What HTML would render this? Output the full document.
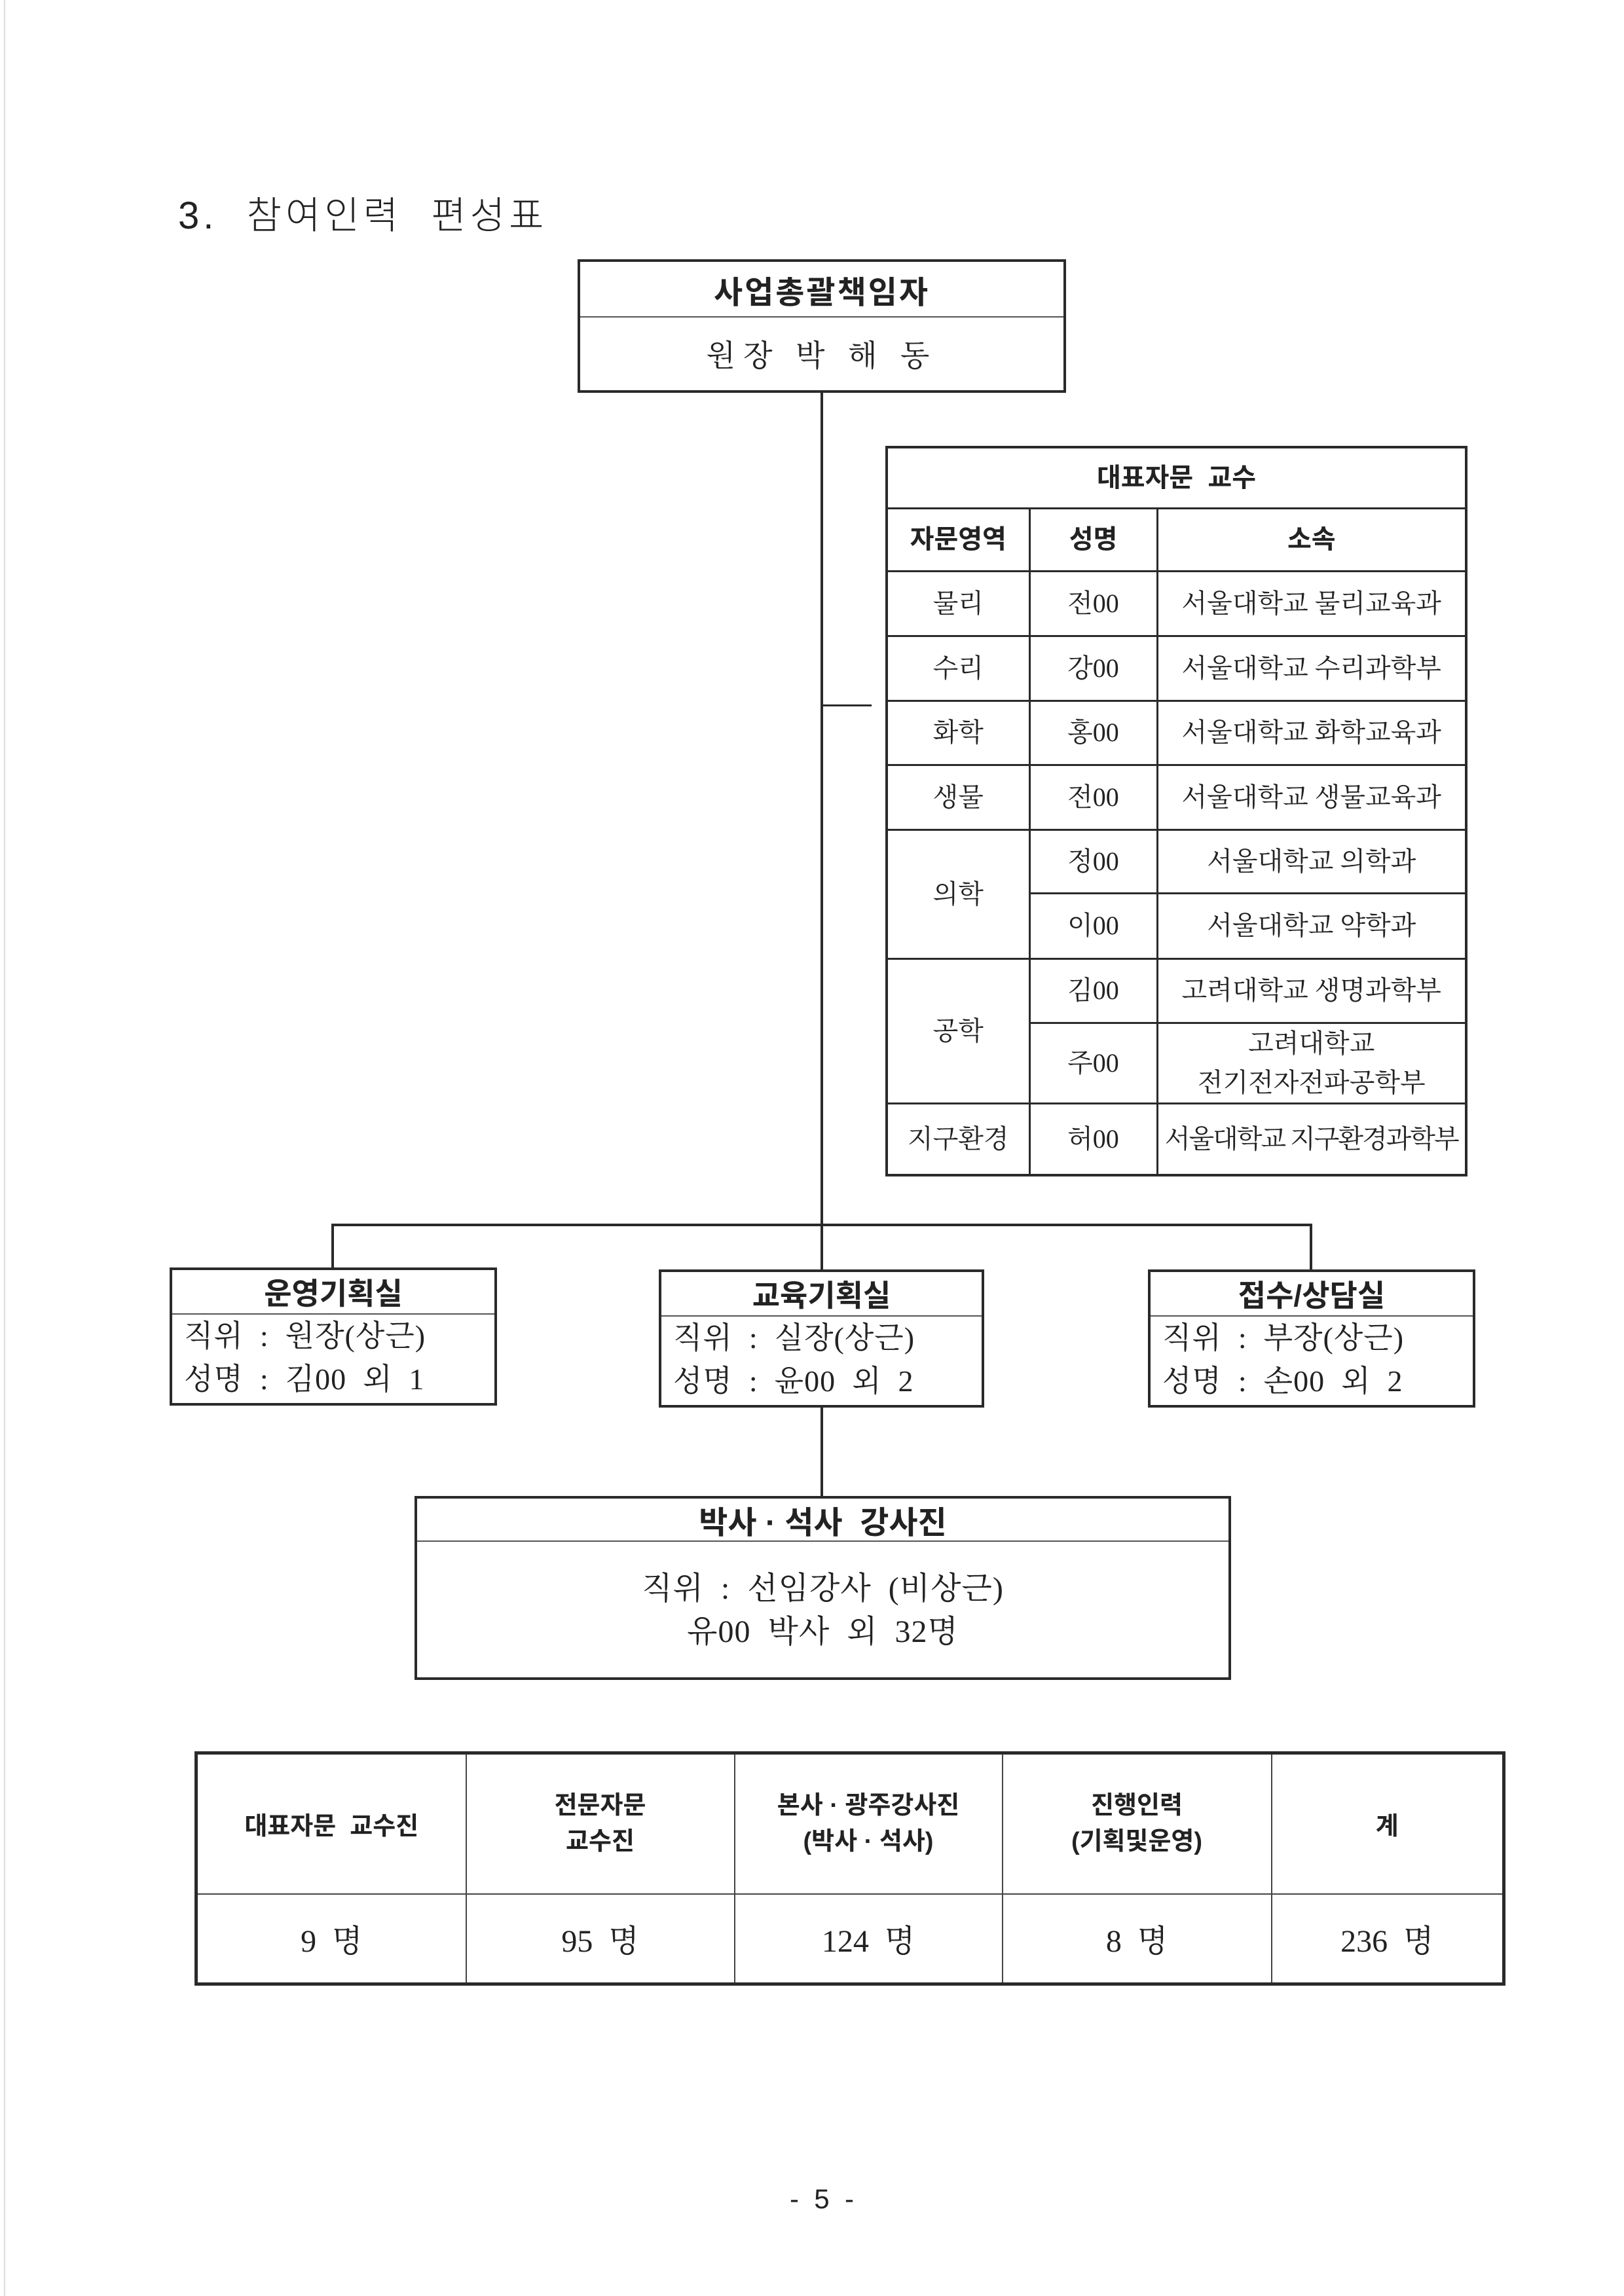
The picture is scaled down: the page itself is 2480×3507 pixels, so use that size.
<!DOCTYPE html>
<html><head><meta charset="utf-8"><style>
*{margin:0;padding:0;box-sizing:border-box}
body{width:2480px;height:3507px;background:#fff;position:relative;overflow:hidden;font-family:"Liberation Serif","Noto Serif CJK SC",serif;color:#222}
.a{position:absolute}
.ln{position:absolute;background:#2a2a2a}
.box{position:absolute;border:4px solid #2a2a2a}
.sans{font-family:"Liberation Sans","Noto Sans CJK KR",sans-serif}
.c{display:flex;align-items:center;justify-content:center;text-align:center}
table{border-collapse:collapse}
.adv td{border:3px solid #2a2a2a;text-align:center;font-size:40px;line-height:1.25}
.sum td{border:2px solid #444;text-align:center}
.bt{padding-left:18px;font-size:46px;line-height:66px;white-space:pre;letter-spacing:1px}
</style></head><body>
<div class="ln" style="left:6px;top:0;width:2px;height:3507px;background:#ddd"></div>
<div class="a" style="left:272px;top:282px;font-size:58px;font-family:'Liberation Sans','Noto Sans CJK KR',sans-serif;font-weight:300;letter-spacing:6px;white-space:pre">3.  참여인력  편성표</div>

<div class="box" style="left:882px;top:396px;width:746px;height:204px">
 <div class="c sans" style="height:85px;border-bottom:2px solid #555;font-size:48px;font-weight:bold;letter-spacing:3px">사업총괄책임자</div>
 <div class="c" style="height:110px;font-size:46px;letter-spacing:12px">원장 박 해 동</div>
</div>

<div class="ln" style="left:1253px;top:600px;width:4px;height:1340px"></div>
<div class="ln" style="left:1253px;top:1076px;width:78px;height:3px"></div>
<div class="ln" style="left:506px;top:1869px;width:1498px;height:4px"></div>
<div class="ln" style="left:506px;top:1869px;width:4px;height:70px"></div>
<div class="ln" style="left:2000px;top:1869px;width:4px;height:70px"></div>
<div class="ln" style="left:1253px;top:2148px;width:4px;height:138px"></div>

<table class="adv a" style="left:1352px;top:681px;width:889px;height:1110px;border:4px solid #2a2a2a">
<colgroup><col style="width:218px"><col style="width:195px"><col></colgroup>
<tr style="height:93px"><td colspan="3" class="sans" style="font-weight:bold;font-size:40px;white-space:pre">대표자문  교수</td></tr>
<tr style="height:96px" class="sans"><td style="font-weight:bold">자문영역</td><td style="font-weight:bold">성명</td><td style="font-weight:bold">소속</td></tr>
<tr style="height:99px"><td>물리</td><td>전00</td><td>서울대학교 물리교육과</td></tr>
<tr style="height:99px"><td>수리</td><td>강00</td><td>서울대학교 수리과학부</td></tr>
<tr style="height:98px"><td>화학</td><td>홍00</td><td>서울대학교 화학교육과</td></tr>
<tr style="height:99px"><td>생물</td><td>전00</td><td>서울대학교 생물교육과</td></tr>
<tr style="height:97px"><td rowspan="2">의학</td><td>정00</td><td>서울대학교 의학과</td></tr>
<tr style="height:100px"><td>이00</td><td>서울대학교 약학과</td></tr>
<tr style="height:98px"><td rowspan="2">공학</td><td>김00</td><td>고려대학교 생명과학부</td></tr>
<tr style="height:121px"><td>주00</td><td style="line-height:1.5">고려대학교<br>전기전자전파공학부</td></tr>
<tr style="height:110px"><td>지구환경</td><td>허00</td><td style="letter-spacing:-2px">서울대학교 지구환경과학부</td></tr>
</table>

<div class="box" style="left:259px;top:1936px;width:500px;height:211px">
 <div class="c sans" style="height:68px;border-bottom:2px solid #555;font-size:46px;font-weight:bold">운영기획실</div>
 <div class="bt">직위  :  원장(상근)
성명  :  김00  외  1</div>
</div>
<div class="box" style="left:1006px;top:1939px;width:497px;height:211px">
 <div class="c sans" style="height:68px;border-bottom:2px solid #555;font-size:46px;font-weight:bold">교육기획실</div>
 <div class="bt">직위  :  실장(상근)
성명  :  윤00  외  2</div>
</div>
<div class="box" style="left:1753px;top:1939px;width:500px;height:211px">
 <div class="c sans" style="height:68px;border-bottom:2px solid #555;font-size:46px;font-weight:bold">접수/상담실</div>
 <div class="bt">직위  :  부장(상근)
성명  :  손00  외  2</div>
</div>

<div class="box" style="left:633px;top:2285px;width:1247px;height:281px">
 <div class="c sans" style="height:66px;border-bottom:2px solid #555;font-size:48px;font-weight:bold;white-space:pre">박사 · 석사  강사진</div>
 <div class="c" style="height:200px;font-size:48px;line-height:66px;padding-top:10px;white-space:pre;letter-spacing:1px">직위  :  선임강사  (비상근)
유00  박사  외  32명</div>
</div>

<table class="sum a" style="left:297px;top:2675px;width:2002px;height:358px;border:5px solid #2a2a2a">
<colgroup><col style="width:412px"><col style="width:410px"><col style="width:409px"><col style="width:411px"><col></colgroup>
<tr style="height:215px" class="sans"><td style="font-weight:bold;font-size:38px;white-space:pre">대표자문  교수진</td><td style="font-weight:bold;font-size:38px;line-height:1.45">전문자문<br>교수진</td><td style="font-weight:bold;font-size:38px;line-height:1.45">본사 · 광주강사진<br>(박사 · 석사)</td><td style="font-weight:bold;font-size:38px;line-height:1.45">진행인력<br>(기획및운영)</td><td style="font-weight:bold;font-size:38px">계</td></tr>
<tr style="font-size:48px;white-space:pre"><td>9  명</td><td>95  명</td><td>124  명</td><td>8  명</td><td>236  명</td></tr>
</table>

<div class="a" style="left:1150px;top:3335px;width:210px;text-align:center;font-size:42px;font-family:'Liberation Sans',sans-serif;white-space:pre">-  5  -</div>
</body></html>
